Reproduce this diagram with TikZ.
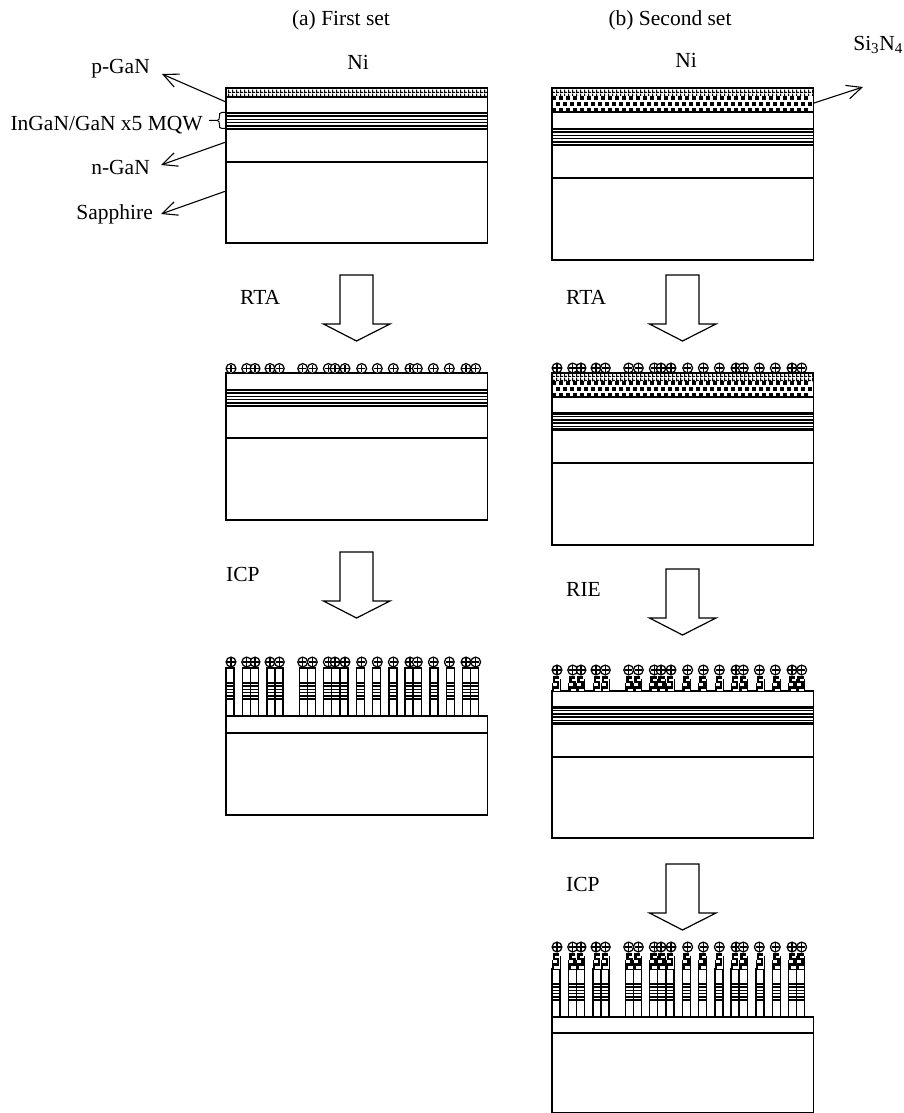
\documentclass[tikz,border=0pt]{standalone}
\usepackage{fontspec}
\setmainfont{Liberation Serif}
\usetikzlibrary{patterns,arrows.meta}
\pgfdeclarepatternformonly{nimesh}{\pgfqpoint{0pt}{0pt}}{\pgfqpoint{4pt}{4pt}}{\pgfqpoint{4pt}{4pt}}{%
  \pgfpathrectangle{\pgfqpoint{0pt}{0pt}}{\pgfqpoint{4pt}{1.4pt}}\pgfusepath{fill}%
  \pgfpathrectangle{\pgfqpoint{0pt}{0pt}}{\pgfqpoint{1.4pt}{4pt}}\pgfusepath{fill}}
\tikzset{
  x=1pt,y=-1pt,
  wire/.style={line width=1.2pt,black},
  pointer/.style={line width=1.1pt,black,-{Straight Barb[length=15pt,width=14pt,line width=1.1pt]}},
  blockarrow/.style={line width=1.2pt,draw=black,fill=white,line join=miter},
  lab/.style={inner sep=0pt,font=\fontsize{21.5}{25}\selectfont}
}
% x, top, interface line, bottom
\newcommand{\slab}[4]{\draw[wire] (#1,#2) rectangle (#1+261.5,#4);
  \draw[wire] (#1,#3) -- (#1+261.5,#3);}
% x, width, top of MQW
\newcommand{\wells}[3]{%
  \draw[line width=2.1pt] (#1,#3) -- (#1+#2,#3);
  \foreach \k in {1,2,3,4}{\draw[line width=1.5pt] (#1,#3+3.2*\k) -- (#1+#2,#3+3.2*\k);}
  \draw[line width=2.1pt] (#1,#3+16) -- (#1+#2,#3+16);}
% x, top, bottom of Ni layer
\newcommand{\nilayer}[3]{\fill[pattern=nimesh] (#1,#2) rectangle (#1+261.5,#3);
  \draw[wire] (#1,#2) -- (#1+261.5,#2);}
% x, top, bottom of Si3N4 layer: three staggered rows of black squares
\newcommand{\sinlayer}[3]{%
  \foreach \c in {0,...,36}{%
    \fill (#1+7*\c+.3,#2+.4) rectangle +(3.8,3.6);
    \fill (#1+7*\c+3.8,#2+6) rectangle +(3.8,3.6);
    \fill (#1+7*\c+.3,#2+11.6) rectangle +(3.8,3.6);}
  \draw[line width=1.5pt] (#1,#3) -- (#1+261.5,#3);}
\newcommand{\particle}[2]{%
  \draw[line width=1.25pt,fill=white] (#1,#2) circle[radius=4.9];
  \draw[line width=1.2pt] (#1-3.7,#2) -- (#1+3.7,#2) (#1,#2-3.7) -- (#1,#2+3.7);}
\newcommand{\particles}[2]{\foreach \d in {5,20.7,29,44,53.3,76.7,86.3,102.3,109,119,135.7,151.3,167.3,184,191.3,207.3,223.3,240,249.7}{\particle{#1+\d}{#2}}}
\newcommand{\plist}{0,16.3,24.3,41,49,73.3,81.3,97.7,105.7,114,130.3,146.7,163,179,187.3,204,220.3,236.3,244.7}
% x, top of pillar, mqw top, bottom
\newcommand{\pillars}[4]{\foreach \d in \plist{%
  \draw[wire,fill=white] (#1+\d,#2) rectangle (#1+\d+8,#4);
  \wells{#1+\d}{8}{#3}}}
% x, top, bottom of Si3N4 caps
\newcommand{\caps}[3]{\foreach \d in \plist{%
  \fill[white] (#1+\d,#2) rectangle (#1+\d+8,#3);
  \draw[line width=2.8pt,line join=miter] (#1+\d+7,#2+1.5) -- (#1+\d+2,#2+1.5) -- (#1+\d+2,#2+6) -- (#1+\d+6,#2+6) -- (#1+\d+6,#2+11.5) -- (#1+\d+1,#2+11.5) -- (#1+\d+1,#3);
  \draw[line width=.7pt] (#1+\d+8,#2+3) -- (#1+\d+8,#3) (#1+\d,#2+7) -- (#1+\d,#3);}}
% x of shaft left, top
\newcommand{\blockarr}[2]{\draw[blockarrow] (#1,#2) -- (#1+33,#2) -- (#1+33,#2+49) -- (#1+50,#2+49) -- (#1+16.5,#2+66) -- (#1-16.5,#2+49) -- (#1,#2+49) -- cycle;}
\begin{document}
\begin{tikzpicture}
\useasboundingbox (0,0) rectangle (903,1113);
\fill[white] (0,0) rectangle (903,1113);

% titles
\node[lab] (ta) at (341,20) {(a) First set};
\node[lab] (tb) at (670,20) {(b) Second set};
\node[lab] (nia) at (358,62) {Ni};
\node[lab] (nib) at (686,60) {Ni};
\node[lab,anchor=east] (sin) at (903,45) {Si\textsubscript{3}N\textsubscript{4}};

% side labels
\node[lab,anchor=east] (pg) at (150,69) {p-GaN};
\node[lab,anchor=east] (mq) at (203,125) {InGaN/GaN x5 MQW};
\node[lab,anchor=east] (ng) at (150,167) {n-GaN};
\node[lab,anchor=east] (sa) at (153,214) {Sapphire};

% (a) first stack
\slab{226}{88}{162}{243}
\nilayer{226}{88}{97}
\draw[wire] (226,97) -- (487.5,97);
\wells{226}{261.5}{113}

% (a) after RTA
\blockarr{340}{275}
\node[lab,anchor=west] (rta1) at (240,297) {RTA};
\slab{226}{373}{438}{520}
\wells{226}{261.5}{390}
\particles{226}{368.5}

% (a) after ICP
\blockarr{340}{552}
\node[lab,anchor=west] (icp1) at (226,574) {ICP};
\pillars{226}{668}{683}{716}
\slab{226}{716}{733}{815}
\particles{226}{662}

% (b) first stack
\slab{552}{88}{178}{260}
\nilayer{552}{88}{96}
\sinlayer{552}{96}{112}
\wells{552}{261.5}{129}

% (b) after RTA
\blockarr{666}{275}
\node[lab,anchor=west] (rta2) at (566,297) {RTA};
\slab{552}{373}{463}{545}
\nilayer{552}{373}{381}
\sinlayer{552}{381}{397}
\wells{552}{261.5}{413.5}
\particles{552}{368}

% (b) after RIE
\blockarr{666}{569}
\node[lab,anchor=west] (rie) at (566,589) {RIE};
\slab{552}{691}{757}{838}
\wells{552}{261.5}{707.5}
\caps{552}{676}{691}
\particles{552}{670}

% (b) after ICP
\blockarr{666}{864}
\node[lab,anchor=west] (icp2) at (566,884) {ICP};
\pillars{552}{969}{984}{1017}
\caps{552}{953}{969}
\slab{552}{1017}{1033}{1112.4}
\particles{552}{947}

% pointers
\coordinate (pa) at (226,102);
\coordinate (pb) at (162,74);
\coordinate (na) at (226,142);
\coordinate (nb) at (161,165);
\coordinate (sa1) at (226,191);
\coordinate (sa2) at (161,214);
\coordinate (si1) at (814,103);
\coordinate (si2) at (863,87);
\draw[pointer] (pa) -- (pb);
\draw[pointer] (na) -- (nb);
\draw[pointer] (sa1) -- (sa2);
\draw[pointer] (si1) -- (si2);

% brace of the MQW
\coordinate (bt) at (209,120.5);
\draw[line width=1pt] (226,112.5) -- (222,112.5) .. controls (219,112.5) and (219.5,114) .. (219.5,116) .. controls (219.5,119) and (219,120.5) .. (217,120.5) -- (bt);
\draw[line width=1pt] (226,128.5) -- (222,128.5) .. controls (219,128.5) and (219.5,127) .. (219.5,125) .. controls (219.5,122) and (219,120.5) .. (217,120.5);
\end{tikzpicture}
\end{document}
